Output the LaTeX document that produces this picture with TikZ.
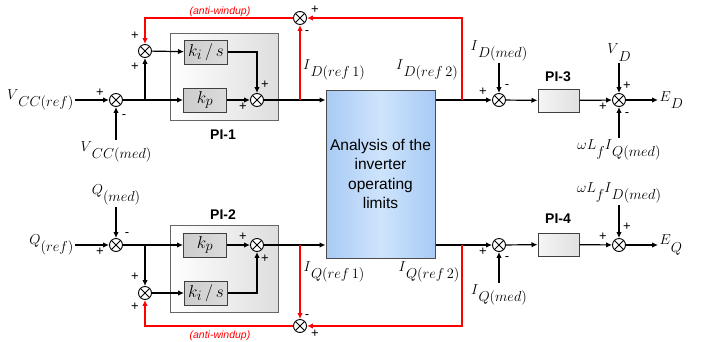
\documentclass[tikz,border=0pt]{standalone}
\usepackage{fontspec}
\setmainfont{Liberation Sans}
\usetikzlibrary{arrows.meta}
\definecolor{limedge}{RGB}{168,202,244}
\definecolor{limmid}{RGB}{206,228,252}
\newcommand{\lbl}[2]{$#1\raisebox{-0.55em}{$#2$}$}

\begin{document}
\begin{tikzpicture}[
 x=1pt,y=-1pt,
 >={Latex[length=6pt,width=5.5pt]},
 every node/.style={font=\fontsize{13.5}{15}\selectfont},
 every path/.style={line width=1.2pt},
 sum/.style={draw,circle,line width=0.9pt,inner sep=0pt,minimum size=13pt,fill=white,
  path picture={\draw[line width=0.8pt]
   (path picture bounding box.north west) -- (path picture bounding box.south east)
   (path picture bounding box.north east) -- (path picture bounding box.south west);}},
 pibox/.style={draw=black!60,line width=1pt,minimum width=108pt,minimum height=87pt,
  left color=white,right color=black!13},
 gain/.style={draw=black!75,line width=1pt,inner sep=0pt,minimum width=43pt,minimum height=24pt,
  left color=black!20,right color=black!14,font=\fontsize{19}{20}\selectfont},
 ctrl/.style={draw=black!75,line width=1pt,minimum width=41pt,minimum height=23pt,
  left color=black!4,right color=black!12},
 lim/.style={draw=black!70,line width=1pt,minimum width=109pt,minimum height=168pt,align=center,
  left color=limedge,right color=limedge,middle color=limmid,font=\fontsize{15.5}{19.5}\selectfont},
 sgn/.style={font=\fontsize{13}{14}\selectfont,inner sep=0pt},
 tag/.style={font=\bfseries\fontsize{14}{16}\selectfont},
 aw/.style={red,font=\itshape\fontsize{10.5}{12}\selectfont},
 fb/.style={red,->},
 sig/.style={inner sep=1pt}
]
 \useasboundingbox (0,0) rectangle (718,341);

 % PI-1 / PI-2 frames
 \node[pibox] (pi1) at (224,76.5) {};
 \node[pibox] (pi2) at (224,269) {};
 \node[tag] (pi1tag) at (223,135) {PI-1};
 \node[tag] (pi2tag) at (223,215) {PI-2};

 % upper channel
 \coordinate (vin) at (75,100);
 \coordinate (vmin) at (116,140);
 \coordinate (b0) at (145,100);
 \coordinate (b1) at (300,100);
 \coordinate (b3) at (462,100);
 \node[sum] (sv) at (116,100) {};
 \node[sum] (si1) at (145,51) {};
 \node[gain] (ki1) at (206,52) {$k_i\,/\,s$};
 \node[gain] (kp1) at (205,100) {$k_p$};
 \node[sum] (so1) at (257,100) {};
 \node[sum] (sw1) at (300,18) {};
 \node[sig,anchor=east] (vref) at (vin) {\lbl{V}{CC(ref)}};
 \node[sig,anchor=north] (vmed) at (vmin) {\lbl{V}{CC(med)}};

 % lower channel
 \coordinate (qin) at (75,245);
 \coordinate (qmin) at (116,207);
 \coordinate (b4) at (145,245);
 \coordinate (b5) at (300,245);
 \coordinate (b6) at (462,245);
 \node[sum] (sq) at (116,245) {};
 \node[sum] (si2) at (145,293) {};
 \node[gain] (kp2) at (205,245) {$k_p$};
 \node[gain] (ki2) at (206,293) {$k_i\,/\,s$};
 \node[sum] (so2) at (257,245) {};
 \node[sum] (sw2) at (300,326) {};
 \node[sig,anchor=east] (qref) at (qin) {\lbl{Q}{(ref)}};
 \node[sig,anchor=south] (qmed) at (qmin) {\lbl{Q}{(med)}};

 \node[lim] (limits) at (380.5,174) {Analysis of the\\inverter\\operating\\limits};

 \node[sig] (idr1) at (334,70) {\lbl{I}{D(ref\,1)}};
 \node[sig] (idr2) at (427,70) {\lbl{I}{D(ref\,2)}};
 \node[sig] (iqr1) at (334,272) {\lbl{I}{Q(ref\,1)}};
 \node[sig] (iqr2) at (429,272) {\lbl{I}{Q(ref\,2)}};

 % current loops
 \coordinate (idmin) at (499,63);
 \coordinate (iqmin) at (499,283);
 \coordinate (vdin) at (619,63);
 \coordinate (wlin) at (619,138);
 \coordinate (wdin) at (619,205);
 \coordinate (edout) at (658,100);
 \coordinate (eqout) at (658,245);
 \node[sum] (sd) at (499,100) {};
 \node[ctrl] (pi3) at (558.5,100.5) {};
 \node[sum] (sed) at (619,100) {};
 \node[sum] (sq2) at (499,245) {};
 \node[ctrl] (pi4) at (558.5,244.5) {};
 \node[sum] (seq) at (619,245) {};
 \node[tag] (pi3tag) at (558,77) {PI-3};
 \node[tag] (pi4tag) at (558,219) {PI-4};
 \node[sig,anchor=south] (idmed) at (idmin) {\lbl{I}{D(med)}};
 \node[sig,anchor=north] (iqmed) at (iqmin) {\lbl{I}{Q(med)}};
 \node[sig,anchor=south] (vd) at (vdin) {\lbl{V}{D}};
 \node[sig,anchor=north] (wliq) at (wlin) {$\omega L$\raisebox{-0.55em}{$f$}\lbl{I}{Q(med)}};
 \node[sig,anchor=south] (wlid) at (wdin) {$\omega L$\raisebox{-0.55em}{$f$}\lbl{I}{D(med)}};
 \node[sig,anchor=west] (ed) at (edout) {\lbl{E}{D}};
 \node[sig,anchor=west] (eq) at (eqout) {\lbl{E}{Q}};

 % black connectors
 \draw[->] (vin) -- (sv);
 \draw[->] (vmin) -- (sv);
 \draw[->] (sv) -- (kp1);
 \draw[->] (b0) -- (si1);
 \draw[->] (si1) -- (ki1);
 \draw[->] (ki1) -| (so1);
 \draw[->] (kp1) -- (so1);
 \draw[->] (so1) -- (so1 -| limits.west);
 \draw[->] (limits.east |- sd) -- (sd);
 \draw[->] (idmin) -- (sd);
 \draw[->] (sd) -- (pi3);
 \draw[->] (pi3) -- (sed);
 \draw[->] (vdin) -- (sed);
 \draw[->] (wlin) -- (sed);
 \draw[->] (sed) -- (edout);

 \draw[->] (qin) -- (sq);
 \draw[->] (qmin) -- (sq);
 \draw[->] (sq) -- (kp2);
 \draw[->] (b4) -- (si2);
 \draw[->] (si2) -- (ki2);
 \draw[->] (ki2) -| (so2);
 \draw[->] (kp2) -- (so2);
 \draw[->] (so2) -- (so2 -| limits.west);
 \draw[->] (limits.east |- sq2) -- (sq2);
 \draw[->] (iqmin) -- (sq2);
 \draw[->] (sq2) -- (pi4);
 \draw[->] (pi4) -- (seq);
 \draw[->] (wdin) -- (seq);
 \draw[->] (seq) -- (eqout);

 % anti-windup feedback
 \draw[fb] (b1) -- (sw1);
 \draw[fb] (b3) |- (sw1);
 \draw[fb] (sw1) -| (si1);
 \draw[fb] (b5) -- (sw2);
 \draw[fb] (b6) |- (sw2);
 \draw[fb] (sw2) -| (si2);
 \node[aw] (aw1) at (220,12) {(anti-windup)};
 \node[aw] (aw2) at (220,336) {(anti-windup)};

 % signs
 \foreach \p/\s [count=\i] in {(100,93)/+,(124,117)/-,(135,36)/+,(135,67)/+,(265,85)/+,
   (243,107)/+,(315,10)/+,(307,33)/-,(483,92)/+,(507,87)/-,(627,86)/+,(603,107)/+,(627,115)/-,
   (127,235)/-,(100,252)/+,(135,277)/+,(135,307)/+,(243,237)/+,(265,259)/+,(307,317)/-,
   (315,334)/+,(483,252)/+,(507,259)/-,(627,227)/+,(603,237)/+}
  \node[sgn] (sg\i) at \p {\s};
\end{tikzpicture}
\end{document}
